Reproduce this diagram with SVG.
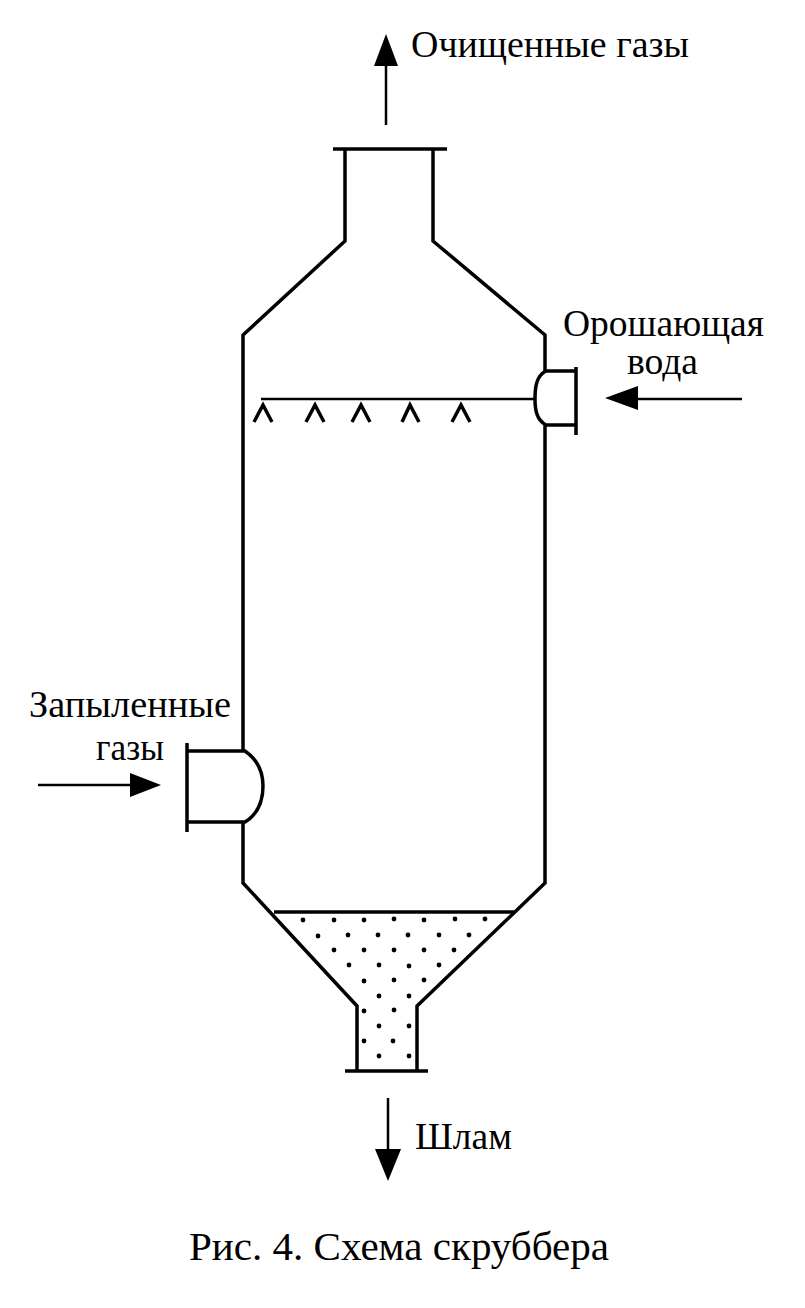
<svg xmlns="http://www.w3.org/2000/svg" width="805" height="1308" viewBox="0 0 805 1308">
<defs>
<style>
.l{fill:none;stroke:#000;stroke-width:3.5;stroke-linejoin:miter;stroke-linecap:butt}
.t{stroke-width:2.5}
.n{stroke-width:3.5}
.h{fill:#000;stroke:none}
text{font-family:"Liberation Serif","Times New Roman",serif;font-size:38px;fill:#000}
</style>
</defs>
<rect width="805" height="1308" fill="#fff"/>
<g id="scrubber">
<path class="l" d="M333 149H447M345 149V241L243 335V751M243 822V883L357 1006V1071M433 149V241L545 335V371M545 425V883L417 1006V1071M345 1071H428"/>
<path class="l" d="M274 912H514"/>
<path class="l t" d="M261 399H535"/>
</g>
<g id="nozzles" class="nozzles">
<path class="l n" d="M254 422L263 405L272 422M306 422L315 405L324 422M352 422L361 405L370 422M402 422L410 405L419 422M452 422L461 405L470 422"/>
</g>
<g id="water-inlet">
<path class="l" d="M576 367V435M575 371H546C536 376 535 388 535 399C535 411 537 420 546 425H575"/>
</g>
<g id="gas-inlet">
<path class="l" d="M187 743V832M187 751H245C258 760 263 772 263 786C263 802 258 814 245 822H187"/>
</g>
<g id="sludge">
<g fill="#000">
<circle cx="303" cy="920" r="2.4"/><circle cx="334" cy="920" r="2.4"/><circle cx="364" cy="920" r="2.4"/><circle cx="394" cy="919" r="2.4"/><circle cx="424" cy="920" r="2.4"/><circle cx="455" cy="919" r="2.4"/><circle cx="485" cy="919" r="2.4"/>
<circle cx="318" cy="936" r="2.4"/><circle cx="348" cy="935" r="2.4"/><circle cx="378" cy="935" r="2.4"/><circle cx="408" cy="935" r="2.4"/><circle cx="439" cy="935" r="2.4"/><circle cx="469" cy="935" r="2.4"/>
<circle cx="334" cy="950" r="2.4"/><circle cx="364" cy="950" r="2.4"/><circle cx="394" cy="950" r="2.4"/><circle cx="424" cy="950" r="2.4"/><circle cx="454" cy="950" r="2.4"/>
<circle cx="349" cy="965" r="2.4"/><circle cx="379" cy="965" r="2.4"/><circle cx="409" cy="966" r="2.4"/><circle cx="439" cy="965" r="2.4"/>
<circle cx="364" cy="981" r="2.4"/><circle cx="394" cy="980" r="2.4"/><circle cx="424" cy="980" r="2.4"/>
<circle cx="379" cy="996" r="2.4"/><circle cx="409" cy="996" r="2.4"/>
<circle cx="364" cy="1011" r="2.4"/><circle cx="394" cy="1010" r="2.4"/>
<circle cx="379" cy="1026" r="2.4"/><circle cx="409" cy="1026" r="2.4"/>
<circle cx="364" cy="1041" r="2.4"/><circle cx="393" cy="1041" r="2.4"/>
<circle cx="379" cy="1056" r="2.4"/><circle cx="409" cy="1056" r="2.4"/>
</g>
</g>
<g id="connectors">
<path class="l t" d="M386 125V60M742 399H630M38 785H135M388 1098V1155"/>
<path class="h" d="M386 34L374 66H398Z"/>
<path class="h" d="M605 398L638 386V410Z"/>
<path class="h" d="M161 785L130 773V797Z"/>
<path class="h" d="M388 1181L375 1149H401Z"/>
</g>
<g id="labels">
<text x="411" y="57" textLength="278" lengthAdjust="spacingAndGlyphs">Очищенные газы</text>
<text x="563" y="336" textLength="201" lengthAdjust="spacingAndGlyphs">Орошающая</text>
<text x="627" y="374" textLength="71" lengthAdjust="spacingAndGlyphs">вода</text>
<text x="29" y="717" textLength="202" lengthAdjust="spacingAndGlyphs">Запыленные</text>
<text x="96" y="760" textLength="68" lengthAdjust="spacingAndGlyphs">газы</text>
<text x="415" y="1149" textLength="97" lengthAdjust="spacingAndGlyphs">Шлам</text>
<text x="189" y="1260" textLength="420" lengthAdjust="spacingAndGlyphs" style="font-size:41px">Рис. 4. Схема скруббера</text>
</g>
</svg>
